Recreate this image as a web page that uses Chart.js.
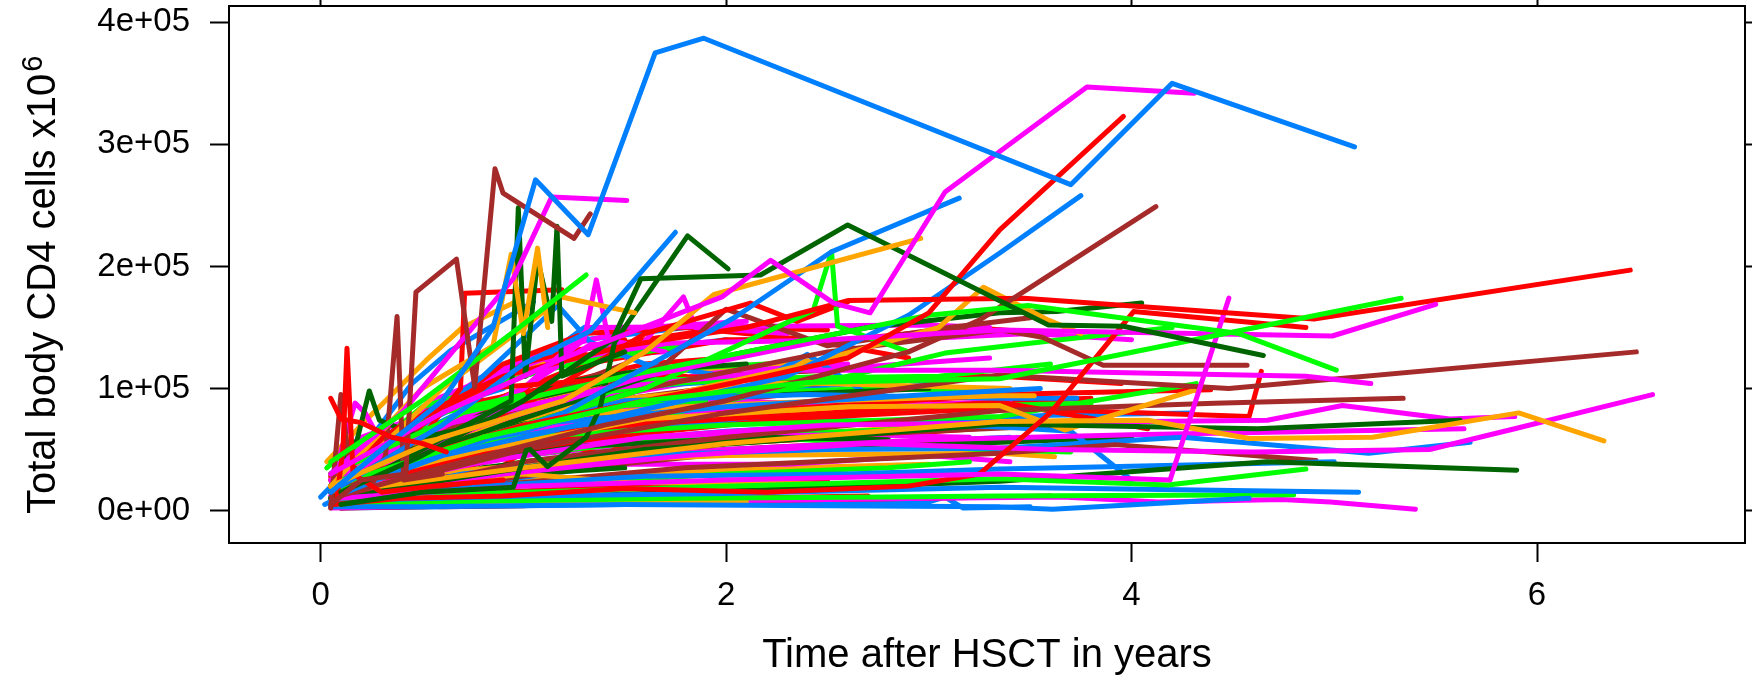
<!DOCTYPE html>
<html>
<head>
<meta charset="utf-8">
<script src="https://cdn.jsdelivr.net/npm/chart.js@4.4.1/dist/chart.umd.min.js"></script>
<style>
  html, body { margin: 0; padding: 0; background: #fff; }
  #wrap { width: 1752px; height: 681px; }
</style>
</head>
<body>
<div id="wrap"><canvas id="myChart" width="1752" height="681"></canvas></div>
<script>
// each patient: [[years after HSCT], [total body CD4 cells x10^6, in thousands]]
const redLines = [
  [[0.05,0.10,0.20,0.35,0.50,0.62],[92,75,72,60,55,48]],
  [[0.08,0.11,0.13,0.16,0.30,0.55,0.90],[10,50,133,30,15,20,25]],
  [[0.06,0.50,1.00,1.60,2.20,2.60,3.00,3.35,3.96],[20,45,70,90,110,125,162,230,323]],
  [[0.07,0.40,0.90,1.50,2.10,2.60,3.47,4.90,6.46],[30,70,110,135,150,172,174,157,197]],
  [[0.06,0.40,0.90,1.50,2.20,2.90,3.25,3.60,4.01,4.86],[5,10,12,18,15,20,30,80,163,150]],
  [[0.10,0.50,0.69,0.71,1.19],[20,60,100,178,181]],
  [[0.08,0.60,1.10,1.60,2.12,2.35,2.60],[15,55,95,145,170,155,171]],
  [[0.07,0.60,1.40,2.30,3.35,4.58,4.64],[8,40,60,75,84,77,114]],
  [[0.05,0.30,0.80,1.60,2.40,3.35,3.95],[25,60,100,110,108,110,104]],
  [[0.06,0.50,1.00,2.00,3.35,4.39],[10,30,60,80,95,99]],
  [[0.10,0.50,1.00,1.50,2.50,3.35,4.08],[5,25,50,70,80,89,67]],
  [[0.05,0.30,0.90,1.50,2.00,2.70],[3,5,8,6,10,12]],
  [[0.05,0.23,0.36,0.49,0.65,0.80,1.10],[28,11,19,41,70,90,100]],
  [[0.10,0.50,1.00,2.00,3.00,3.60],[2,3,5,8,10,12]],
  [[0.06,0.70,1.30,2.00,2.60,3.20,3.60],[12,80,120,140,140,150,145]],
  [[0.08,0.40,0.80,1.10,1.40,1.70],[5,15,25,60,45,75]],
  [[0.12,0.60,1.20,1.90,2.50],[8,12,18,20,25]],
  [[0.05,0.50,0.90,1.30,1.80,2.40,2.90],[15,70,120,145,150,140,125]],
  [[0.05,0.20,0.40,0.60,0.80,1.00,1.30],[30,45,70,60,95,110,130]],
  [[0.10,0.30,0.50,0.70,0.90,1.20,1.60,2.00],[20,35,50,80,90,105,120,125]],
  [[0.06,0.25,0.50,0.75,1.00,1.50],[15,40,80,95,120,140]],
  [[0.05,0.40,0.80,1.20,1.70,2.30,2.80],[10,30,55,75,85,95,100]],
  [[0.08,0.30,0.60,0.90,1.30,1.80],[40,55,60,85,100,110]],
  [[0.05,0.20,0.45,0.70,1.00],[20,30,35,45,55]],
  [[0.06,0.50,1.10,1.80,2.50,3.20,3.80],[12,40,65,80,90,88,92]],
  [[0.08,0.60,1.30,2.00,2.80,3.50],[10,25,40,55,62,70]],
  [[0.05,0.40,0.80,1.20,1.60,2.00,2.50],[20,60,105,130,140,150,148]]
];
const blueLines = [
  [[0.05,0.30,0.60,0.85,1.06,1.32,1.65,1.89,3.70,4.20,5.10],[15,50,90,150,271,226,375,387,267,350,298]],
  [[0.10,0.60,1.00,1.33,1.75],[20,70,120,147,228]],
  [[0.05,0.50,1.20,2.05,2.52,3.15],[10,40,80,159,212,256]],
  [[0.06,0.60,1.40,2.30,2.90,3.35,3.75],[12,45,75,110,160,211,258]],
  [[0.05,0.50,1.50,2.50,3.35,3.61,4.58],[3,3,5,4,3,1,10]],
  [[0.07,1.00,2.00,3.35,5.12],[8,12,14,19,15]],
  [[0.05,0.80,1.60,2.60,3.35,3.94,5.00],[5,20,28,30,34,36,40]],
  [[0.10,0.70,1.50,2.50,3.35,4.25,5.17,5.67],[10,30,45,50,51,60,47,56]],
  [[0.06,0.50,1.00,2.00,3.00,3.55],[10,40,70,85,95,100]],
  [[0.10,0.80,1.50,2.40,3.35,3.73],[20,60,90,95,92,92]],
  [[0.05,0.60,1.30,2.40,3.40,3.70,4.00],[15,50,70,75,68,65,25]],
  [[0.05,0.25,0.45,0.64,1.05],[20,60,104,131,171]],
  [[0.00,0.07,0.15,0.25,0.33,0.45,0.70,1.00],[11,23,56,34,26,35,55,70]],
  [[0.05,0.40,0.80,1.17,1.33,1.60,2.00],[10,60,110,168,138,120,110]],
  [[0.10,0.80,1.60,2.10,2.40,2.70,3.00],[15,50,80,100,128,95,105]],
  [[0.05,0.90,1.80,2.70,3.40],[5,25,45,55,60]],
  [[0.10,1.00,2.00,2.98,3.08,3.17,3.50],[2,4,6,6,11,2,3]],
  [[0.02,0.20,0.50,0.90,1.30],[5,20,40,60,80]],
  [[0.05,0.60,1.20,1.80,2.30],[8,30,60,70,75]],
  [[0.06,0.30,0.55,0.80,1.10,1.50,2.00],[25,45,75,95,120,130,140]],
  [[0.10,0.40,0.70,1.00,1.40,1.90,2.40],[15,35,60,80,100,105,115]],
  [[0.05,0.20,0.50,0.80,1.20,1.60],[30,55,65,90,95,110]],
  [[0.08,0.35,0.65,1.00,1.50,2.20,2.80],[10,25,45,55,65,75,80]],
  [[0.05,0.30,0.60,0.90,1.30],[40,60,85,100,150]],
  [[0.05,0.60,1.30,2.00,2.80,3.60,4.30],[8,35,55,65,72,78,80]],
  [[0.07,0.70,1.50,2.30,3.10],[15,55,85,100,110]],
  [[0.05,0.45,0.90,1.30,1.80],[30,75,115,140,150]]
];
const greenLines = [
  [[0.05,0.50,0.98,1.31],[40,90,150,193]],
  [[0.06,0.80,1.60,2.40,3.35,5.33],[20,60,90,105,108,174]],
  [[0.05,0.70,1.50,2.40,3.00,3.49,4.53,5.01],[30,80,110,140,160,168,145,115]],
  [[0.08,0.80,1.60,2.43,2.52,2.55,2.90],[15,60,100,164,212,151,130]],
  [[0.05,1.00,2.00,3.35,4.18,4.86],[10,15,20,26,21,34]],
  [[0.07,0.90,1.80,2.80,3.35,4.80],[5,8,10,11,12,13]],
  [[0.10,0.50,1.00,2.00,3.35,4.32],[25,45,60,70,77,104]],
  [[0.05,0.60,1.20,1.55,3.05,3.60],[20,50,80,107,110,120]],
  [[0.03,0.10,0.30,0.60,1.00],[35,45,60,80,95]],
  [[0.05,0.70,1.50,2.17,3.25,3.70],[10,40,55,60,50,48]],
  [[0.05,1.00,2.00,2.80,3.20],[5,20,30,35,40]],
  [[0.08,1.00,2.00,2.60,3.08,3.65,4.20],[10,50,90,110,129,140,150]],
  [[0.06,0.40,0.90,1.40,1.90],[12,40,65,85,90]],
  [[0.05,0.25,0.50,0.80,1.10,1.40,1.80],[30,50,85,100,115,125,135]],
  [[0.07,0.30,0.60,0.90,1.30,1.80,2.50],[20,40,55,75,95,105,110]],
  [[0.06,0.40,0.80,1.20,1.60,2.20],[25,45,70,90,115,120]],
  [[0.05,0.50,1.00,1.50,2.00,2.60,3.20],[10,25,40,50,60,65,68]],
  [[0.10,0.35,0.70,1.00,1.30],[45,60,75,100,120]],
  [[0.06,0.60,1.40,2.20,3.00,3.80],[10,35,60,75,85,88]],
  [[0.05,0.50,1.20,1.90,2.70,3.40],[20,55,80,95,100,98]]
];
const magentaLines = [
  [[0.05,0.60,1.20,1.98,2.22,2.53,2.71,3.08,3.78,4.31],[30,80,125,175,205,170,162,261,347,342]],
  [[0.05,0.40,0.75,0.95,1.14,1.51],[30,80,150,190,257,254]],
  [[0.06,0.80,1.60,2.50,3.35,4.99,5.50],[20,70,110,140,148,143,169]],
  [[0.08,1.00,2.00,3.35,4.19,4.48],[10,20,25,30,25,174]],
  [[0.05,0.60,1.40,2.30,3.35,4.86,5.18],[25,70,100,115,115,110,104]],
  [[0.10,0.80,1.60,2.50,3.50,4.67,5.04,5.57,5.89],[15,40,60,70,72,74,86,75,77]],
  [[0.05,0.90,1.80,2.70,3.60,4.60,5.47,5.89,6.57],[10,30,45,55,50,48,50,67,95]],
  [[0.07,1.00,2.00,3.00,4.00,5.64],[15,35,50,58,62,67]],
  [[0.05,1.00,2.00,3.00,3.66,4.13,4.74,4.98,5.40],[2,5,8,10,11,7,9,7,1]],
  [[0.05,0.50,1.00,1.30,1.36,1.42,1.70],[20,60,100,140,189,140,130]],
  [[0.05,0.17,0.22,0.35,0.60],[20,88,80,40,35]],
  [[0.06,0.50,1.00,1.33,2.98,3.50,4.00],[10,60,100,136,141,145,140]],
  [[0.05,0.60,1.00,1.33,3.00,3.30],[15,70,100,150,152,150]],
  [[0.10,0.50,1.20,2.00,2.80,3.40],[10,40,80,90,85,90]],
  [[0.05,0.70,1.38,2.30,3.00,3.40],[10,30,38,38,45,40]],
  [[0.05,0.90,1.70,2.60,3.20],[15,50,60,62,60]],
  [[0.10,0.80,1.50,1.79,1.85,2.30],[15,70,120,175,150,145]],
  [[0.05,0.30,0.60,0.90,1.20,1.60,2.10],[25,60,80,105,120,135,140]],
  [[0.08,0.30,0.55,0.85,1.20,1.70],[35,55,90,110,125,130]],
  [[0.06,0.40,0.80,1.20,1.80,2.40,3.00],[15,35,55,70,80,85,90]],
  [[0.05,0.20,0.45,0.70,1.00,1.40],[40,60,75,95,115,130]],
  [[0.10,0.50,1.00,1.60,2.20],[20,30,45,55,65]],
  [[0.05,0.35,0.70,1.10,1.50,2.00,2.60],[10,45,70,90,100,115,120]],
  [[0.05,0.70,1.40,2.10,2.90,3.70],[12,45,65,75,82,85]],
  [[0.08,0.60,1.30,2.00,2.70,3.30],[20,60,90,110,118,125]],
  [[0.06,0.40,0.80,1.20,1.60,2.10],[25,65,110,135,150,155]]
];
const orangeLines = [
  [[0.05,0.60,1.20,1.60,1.94,2.96],[20,60,90,130,177,223]],
  [[0.05,0.50,0.85,0.94,1.00,1.07,1.12],[20,100,135,210,145,215,150]],
  [[0.06,0.60,1.00,1.19,1.55],[15,100,150,175,162]],
  [[0.05,0.80,1.60,2.40,3.05,3.27,3.59,3.75],[10,60,90,120,150,183,156,145]],
  [[0.06,1.00,2.00,3.35,4.08,4.58,5.19,5.91,6.33],[15,35,55,73,74,59,60,80,57]],
  [[0.05,0.80,1.60,2.60,3.35,3.67,4.32],[20,50,75,85,86,66,99]],
  [[0.05,0.50,1.00,1.52,2.41,2.60],[10,20,30,23,22,20]],
  [[0.08,0.50,1.00,2.10],[5,6,6,7]],
  [[0.05,0.30,0.60,1.00,1.80,2.50,3.35,3.52],[30,50,60,75,85,90,94,94]],
  [[0.06,0.50,1.20,2.00,3.35,3.62],[15,30,40,45,47,44]],
  [[0.10,0.80,1.40,2.30,3.40],[20,70,90,105,100]],
  [[0.03,0.20,0.52,0.70,0.95],[40,70,123,150,170]],
  [[0.06,0.30,0.60,0.90,1.30,1.80],[25,45,65,85,100,115]],
  [[0.05,0.40,0.80,1.20,1.60,2.20,2.80],[15,30,45,60,70,80,85]],
  [[0.10,0.30,0.55,0.80,1.10],[30,55,80,100,120]],
  [[0.05,0.50,1.00,1.60,2.30,3.00],[5,15,25,30,35,38]],
  [[0.06,0.70,1.50,2.30,3.10,3.90],[10,30,50,62,70,75]],
  [[0.05,0.50,1.10,1.80,2.60],[25,60,95,115,125]]
];
const brownLines = [
  [[0.05,0.20,0.42,0.47,0.67,0.76,0.86,0.90,1.25,1.33],[5,25,30,179,206,101,280,260,223,243]],
  [[0.05,0.10,0.14,0.25,0.32,0.377,0.41,0.60],[2,95,40,20,45,159,25,30]],
  [[0.05,0.70,1.40,2.00,2.90,3.25,4.12],[10,40,70,90,130,156,249]],
  [[0.06,0.80,1.60,2.50,3.35,3.56,3.86,4.57],[15,60,100,130,148,142,119,119]],
  [[0.05,1.00,2.00,3.35,4.48,6.49],[10,50,80,111,100,130]],
  [[0.07,1.00,2.00,3.35,4.41,5.34],[5,40,60,82,88,92]],
  [[0.06,0.80,1.80,3.35,3.92,4.91],[5,20,35,47,54,41]],
  [[0.10,0.90,1.70,2.00,2.50,3.10,3.50],[10,70,120,165,135,150,158]],
  [[0.10,0.30,0.60,1.00,1.40],[2,5,3,4,8]],
  [[0.14,0.50,0.86,1.30,1.90],[6,15,25,35,45]],
  [[0.05,0.30,0.60,1.00,1.40,1.90,2.50],[20,40,65,85,100,110,115]],
  [[0.08,0.40,0.80,1.20,1.70,2.30],[10,25,45,60,75,80]],
  [[0.06,0.30,0.70,1.10,1.50],[30,55,75,95,120]],
  [[0.05,0.50,1.00,1.50,2.00,2.60,3.30],[5,20,35,45,50,55,58]],
  [[0.07,0.70,1.40,2.20,3.00,3.70],[8,30,48,58,65,70]],
  [[0.05,0.60,1.20,1.90,2.60,3.30],[15,50,85,100,105,110]]
];
const darkGreenLines = [
  [[0.10,0.50,1.00,1.44,1.58,2.17,2.60,3.59,3.96,4.65],[15,45,90,140,190,193,234,152,151,127]],
  [[0.05,0.50,0.94,0.975,1.01,1.07,1.14,1.166,1.19,1.50],[10,50,90,248,110,206,155,233,110,130]],
  [[0.10,0.50,0.95,1.02,1.12,1.31,1.38,1.45,1.81,2.01],[5,15,19,52,36,60,85,138,225,198]],
  [[0.06,0.90,1.80,2.70,3.35,3.63,4.05],[20,70,120,150,162,163,170]],
  [[0.05,0.80,1.60,2.50,3.35,4.62,5.62],[10,30,50,60,71,67,74]],
  [[0.07,0.90,1.80,2.70,3.35,4.67,5.90],[5,10,15,20,24,40,33]],
  [[0.05,0.18,0.24,0.29,0.50,0.80],[20,58,98,74,60,70]],
  [[0.05,0.30,0.60,1.00,1.50],[15,20,25,30,35]],
  [[0.05,0.60,1.21,2.17,2.80],[10,35,52,60,58]],
  [[0.06,0.30,0.60,0.90,1.20,1.60,2.10],[25,40,60,85,105,115,120]],
  [[0.05,0.40,0.80,1.30,1.90,2.50],[10,20,35,45,55,60]],
  [[0.10,0.35,0.65,1.00,1.40],[35,50,70,90,105]],
  [[0.06,0.80,1.60,2.40,3.20,4.00],[10,28,42,50,55,60]],
  [[0.05,0.50,1.10,1.70,2.30,3.00],[20,55,75,90,95,100]]
];

const xTicks = [0, 2, 4, 6];
const yTicks = [0, 100, 200, 300, 400];
const yTickLabels = ['0e+00', '1e+05', '2e+05', '3e+05', '4e+05'];
const yTitle = 'Total body CD4 cells x10';
const yTitleSup = '6';

const groups = [
  [redLines, '#FF0000'],
  [blueLines, '#0080FF'],
  [greenLines, '#00FF00'],
  [magentaLines, '#FF00FF'],
  [orangeLines, '#FFA500'],
  [brownLines, '#A52A2A'],
  [darkGreenLines, '#006400']
];

// interleave the colours so no single colour sits on top of the pile
const datasets = [];
const most = Math.max(...groups.map(g => g[0].length));
for (let i = 0; i < most; i++) {
  groups.forEach(([lines, colour]) => {
    if (!lines[i]) return;
    const [years, cells] = lines[i];
    datasets.push({
      data: years.map((t, j) => ({x: t, y: cells[j]})),
      borderColor: colour,
      borderWidth: 5,
      borderCapStyle: 'round',
      borderJoinStyle: 'round',
      pointRadius: 0,
      fill: false,
      tension: 0
    });
  });
}

const FONT = '"Liberation Sans", Arial, sans-serif';
Chart.defaults.font.family = FONT;
Chart.defaults.color = '#000';

const X_MIN = -0.452, X_MAX = 7.026;
const Y_MIN = -26.6, Y_MAX = 413.4;

function noPad(s) {
  s.paddingTop = 0; s.paddingBottom = 0; s.paddingLeft = 0; s.paddingRight = 0;
}

// y title with a real superscript, as R draws it
const yTitlePlugin = {
  id: 'yTitle',
  afterDraw(chart) {
    const c = chart.ctx;
    c.save();
    c.translate(55, 514);
    c.rotate(-Math.PI / 2);
    c.fillStyle = '#000';
    c.textBaseline = 'alphabetic';
    c.textAlign = 'left';
    c.font = '40px ' + FONT;
    c.fillText(yTitle, 0, 0);
    const w = c.measureText(yTitle).width;
    c.font = '29px ' + FONT;
    c.fillText(yTitleSup, w + 2, -13);
    c.restore();
  }
};

const tickGrid = {
  drawOnChartArea: false,
  drawTicks: true,
  tickLength: 19,
  tickWidth: 2,
  tickColor: '#000'
};
const boxBorder = {display: true, color: '#000', width: 2};

const ctx = document.getElementById('myChart').getContext('2d');
const chart = new Chart(ctx, {
  type: 'line',
  data: {datasets},
  plugins: [yTitlePlugin],
  options: {
    responsive: false,
    animation: false,
    events: [],
    layout: {padding: 0, autoPadding: false},
    plugins: {legend: {display: false}, tooltip: {enabled: false}},
    scales: {
      x: {
        type: 'linear', position: 'bottom', min: X_MIN, max: X_MAX,
        afterBuildTicks: s => { s.ticks = xTicks.map(v => ({value: v})); },
        afterFit: s => { s.height = 138; noPad(s); },
        grid: tickGrid,
        border: boxBorder,
        ticks: {font: {size: 33}, padding: 14, maxRotation: 0, autoSkip: false, callback: v => String(v)},
        title: {display: true, text: 'Time after HSCT in years', font: {size: 40}, padding: {top: 0, bottom: 1}}
      },
      y: {
        type: 'linear', position: 'left', min: Y_MIN, max: Y_MAX,
        afterBuildTicks: s => { s.ticks = yTicks.map(v => ({value: v})); },
        afterFit: s => { s.width = 229; noPad(s); },
        grid: tickGrid,
        border: boxBorder,
        ticks: {font: {size: 33}, padding: 20, autoSkip: false, callback: v => yTickLabels[yTicks.indexOf(v)]}
      },
      xTop: {
        type: 'linear', position: 'top', min: X_MIN, max: X_MAX,
        afterBuildTicks: s => { s.ticks = xTicks.map(v => ({value: v})); },
        afterFit: s => { s.height = 6; noPad(s); },
        grid: tickGrid,
        border: boxBorder,
        ticks: {display: false}
      },
      yRight: {
        type: 'linear', position: 'right', min: Y_MIN, max: Y_MAX,
        afterBuildTicks: s => { s.ticks = yTicks.map(v => ({value: v})); },
        afterFit: s => { s.width = 7; noPad(s); },
        grid: tickGrid,
        border: boxBorder,
        ticks: {display: false}
      }
    }
  }
});
</script>
</body>
</html>
